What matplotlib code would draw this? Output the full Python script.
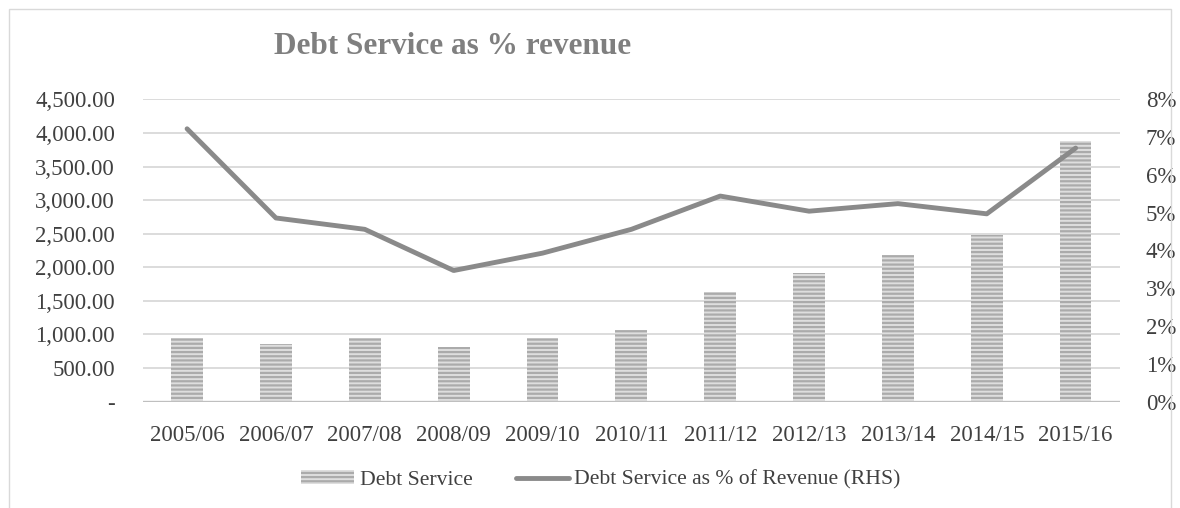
import matplotlib
matplotlib.use("Agg")
import matplotlib.pyplot as plt
import matplotlib.ticker as ticker
from matplotlib.lines import Line2D
from matplotlib.patches import Patch, Rectangle

# Debt service (left axis) and debt service as share of revenue (right axis)
years = ["2005/06", "2006/07", "2007/08", "2008/09", "2009/10", "2010/11",
         "2011/12", "2012/13", "2013/14", "2014/15", "2015/16"]
debt_service = [948, 861, 948, 818, 943, 1060, 1629, 1916, 2183, 2485, 3875]
pct_of_revenue = [7.22, 4.86, 4.56, 3.47, 3.93, 4.56, 5.44, 5.04, 5.24, 4.97, 6.71]

plt.rcParams["font.family"] = ["Liberation Serif", "DejaVu Serif"]
plt.rcParams["hatch.linewidth"] = 1.6

TEXT = "#404040"
GRID = "#d9d9d9"
LINE = "#8a8a8a"
BAR_FACE = "#dedede"
BAR_HATCH = "#ababab"
FS = 16.5

fig = plt.figure(figsize=(11.8, 5.08), dpi=100)
ax = fig.add_axes([0.1209, 0.2093, 0.8283, 0.5952])
ax2 = ax.twinx()

x = range(len(years))
ax.bar(x, debt_service, width=0.357, color=BAR_FACE, edgecolor=BAR_HATCH,
       linewidth=0, hatch="----", zorder=2)
ax2.plot(x, pct_of_revenue, color=LINE, linewidth=3.5,
         solid_capstyle="round", solid_joinstyle="round", zorder=3)

ax.set_xlim(-0.5, len(years) - 0.5)
ax.set_ylim(0, 4500)
ax2.set_ylim(0, 8)
ax.set_xticks(list(x))
ax.set_xticklabels(years)
ax.yaxis.set_major_locator(ticker.MultipleLocator(500))
ax.yaxis.set_major_formatter(
    ticker.FuncFormatter(lambda v, _: "-" if v == 0 else f"{v:,.2f}"))
ax2.yaxis.set_major_locator(ticker.MultipleLocator(1))
ax2.yaxis.set_major_formatter(ticker.FuncFormatter(lambda v, _: f"{v:.0f}%"))

ax.grid(axis="y", color=GRID, linewidth=1.3, zorder=0)
ax.set_axisbelow(True)
for a in (ax, ax2):
    for side in ("top", "left", "right", "bottom"):
        a.spines[side].set_visible(False)
ax.axhline(0, color="#bfbfbf", linewidth=2.4, zorder=2.5)

ax.tick_params(axis="x", length=0, pad=17, labelsize=FS, labelcolor=TEXT)
ax.tick_params(axis="y", length=0, pad=20, labelsize=FS, labelcolor=TEXT)
ax2.tick_params(axis="y", length=0, pad=18.5, labelsize=FS, labelcolor=TEXT)

fig.text(453 / 1180, 1 - 46 / 508, "Debt Service as % revenue",
         ha="center", va="center", fontsize=22.5, fontweight="bold",
         color="#7f7f7f")

handles = [
    Patch(facecolor=BAR_FACE, edgecolor=BAR_HATCH, linewidth=0, hatch="----"),
    Line2D([], [], color=LINE, linewidth=3.5, solid_capstyle="round"),
]
fig.legend(handles, ["Debt Service", "Debt Service as % of Revenue (RHS)"],
           loc="center", bbox_to_anchor=(601 / 1180, 1 - 480 / 508),
           ncol=2, frameon=False, fontsize=15.6, labelcolor=TEXT,
           handlelength=2.45, handleheight=0.6, handletextpad=0.25,
           columnspacing=2.0)

# light frame round the chart area
fig.patches.append(Rectangle((9 / 1180, -0.05), 1162 / 1180, 1.05 - 9 / 508,
                             transform=fig.transFigure, fill=False,
                             edgecolor=GRID, linewidth=1.0))

fig.savefig("out.png", dpi=100)
